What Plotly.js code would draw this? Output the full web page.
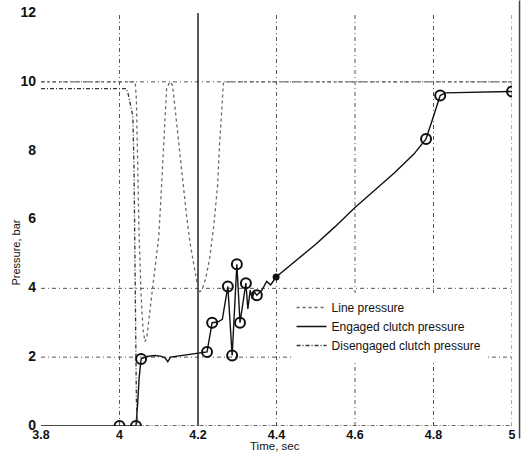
<!DOCTYPE html>
<html>
<head>
<meta charset="utf-8">
<script src="https://cdn.plot.ly/plotly-3.0.1.min.js"></script>
<style>
  html, body { margin: 0; padding: 0; background: #fff; }
  #chart { width: 521px; height: 454px; }
</style>
</head>
<body>
<div id="chart"></div>
<script>
// Line pressure during the shift (bar vs. s)
const lineTime = [3.8, 4.04, 4.043, 4.046, 4.05, 4.055, 4.06, 4.065, 4.07, 4.078,
                  4.09, 4.1, 4.105, 4.11, 4.115, 4.12, 4.128, 4.135, 4.14, 4.15,
                  4.16, 4.17, 4.18, 4.19, 4.2, 4.205, 4.21, 4.22, 4.23, 4.24,
                  4.25, 4.255, 4.26, 4.265, 5.0];
const linePressure = [10, 10, 9.5, 7.5, 5.5, 3.8, 2.8, 2.45, 2.6, 3.4,
                      4.6, 5.5, 6.5, 7.6, 8.8, 9.8, 10, 9.9, 9.4, 8.3,
                      7.1, 6.2, 5.3, 4.6, 4.0, 3.9, 3.95, 4.3, 4.9, 5.8,
                      7.0, 8.2, 9.3, 10, 10];

// Oncoming (engaged) clutch pressure
const engagedTime = [3.8, 4.0, 4.042, 4.046, 4.05, 4.055, 4.07, 4.09, 4.105, 4.116,
                     4.123, 4.13, 4.15, 4.17, 4.19, 4.21, 4.223, 4.236, 4.25, 4.262,
                     4.276, 4.287, 4.299, 4.307, 4.322, 4.327, 4.333, 4.338, 4.343, 4.35,
                     4.363, 4.375, 4.385, 4.399, 4.45, 4.5, 4.55, 4.6, 4.65, 4.7,
                     4.75, 4.781, 4.8, 4.817, 4.83, 5.0];
const engagedPressure = [0, 0, 0, 0.6, 1.4, 1.95, 2.02, 2.05, 2.03, 1.98,
                         1.87, 2.0, 2.03, 2.06, 2.08, 2.11, 2.15, 3.0, 3.02, 3.1,
                         4.05, 2.05, 4.7, 3.0, 4.15, 3.4, 3.95, 3.7, 3.9, 3.8,
                         3.95, 4.2, 4.1, 4.33, 4.8, 5.28, 5.8, 6.35, 6.85, 7.35,
                         7.9, 8.34, 9.0, 9.6, 9.68, 9.72];
// Recorded samples on the engaged curve (open circles) and the filled one
const engagedSampleIdx = [1, 2, 5, 16, 17, 20, 21, 22, 23, 24, 29, 41, 43, 45];
const engagedFilledIdx = [33];

// Offgoing (disengaged) clutch pressure
const disengagedTime = [3.8, 4.018, 4.022, 4.026, 4.03, 4.034, 4.037, 4.039, 4.041, 4.043, 4.045, 5.0];
const disengagedPressure = [9.8, 9.8, 9.65, 9.45, 9.25, 9.0, 7.5, 5.0, 2.5, 0.8, 0, 0];

// Axis ticks
const timeTicks = [3.8, 4.0, 4.2, 4.4, 4.6, 4.8, 5.0];
const timeTickText = ['3.8', '4', '4.2', '4.4', '4.6', '4.8', '5'];
const pressureTicks = [0, 2, 4, 6, 8, 10, 12];
const pressureTickText = ['0', '2', '4', '6', '8', '10', '12'];

// Grid lines and the shift-start marker
const gridTimes = [4.0, 4.4, 4.6, 4.8, 5.0];
const gridPressures = [2, 4, 10];
const shiftTime = 4.2;

const FONT = '"Liberation Sans", Arial, sans-serif';
const gridDash = '4px,3px,1px,3px';

const pick = (arr, idx) => idx.map(i => arr[i]);

const traces = [
  {
    x: lineTime, y: linePressure, mode: 'lines', name: 'Line pressure',
    line: { color: '#6a6a6a', width: 1.3, dash: '3px,3px' }
  },
  {
    x: engagedTime, y: engagedPressure, mode: 'lines', name: 'Engaged clutch pressure',
    line: { color: '#111', width: 1.4 }
  },
  {
    x: disengagedTime, y: disengagedPressure, mode: 'lines', name: 'Disengaged clutch pressure',
    line: { color: '#333', width: 1.3, dash: '4px,2px,1px,2px' }
  },
  {
    x: pick(engagedTime, engagedSampleIdx), y: pick(engagedPressure, engagedSampleIdx),
    mode: 'markers', showlegend: false, hoverinfo: 'skip',
    marker: { symbol: 'circle-open', size: 10, color: '#111', line: { width: 2, color: '#111' } }
  },
  {
    x: pick(engagedTime, engagedFilledIdx), y: pick(engagedPressure, engagedFilledIdx),
    mode: 'markers', showlegend: false, hoverinfo: 'skip',
    marker: { symbol: 'circle', size: 7, color: '#111' }
  }
];

const shapes = [];
gridTimes.forEach(t => shapes.push({
  type: 'line', xref: 'x', yref: 'paper', x0: t, x1: t, y0: 0, y1: 1, layer: 'below',
  line: { color: '#555', width: 1, dash: gridDash }
}));
gridPressures.forEach(p => shapes.push({
  type: 'line', xref: 'paper', yref: 'y', x0: 0, x1: 1, y0: p, y1: p, layer: 'below',
  line: { color: '#555', width: 1, dash: gridDash }
}));
shapes.push({
  type: 'line', xref: 'x', yref: 'paper', x0: shiftTime, x1: shiftTime, y0: 0, y1: 1, layer: 'below',
  line: { color: '#222', width: 1.5 }
});
// page edge on the right
shapes.push({
  type: 'line', xref: 'paper', yref: 'paper', x0: 1.016, x1: 1.016, y0: -0.03, y1: 1.03,
  line: { color: '#444', width: 1.5 }
});

const layout = {
  width: 521, height: 454,
  margin: { l: 41, r: 9, t: 13, b: 28, pad: 0 },
  paper_bgcolor: '#fff', plot_bgcolor: '#fff',
  font: { family: FONT, color: '#111' },
  showlegend: true,
  legend: {
    x: 0.532, y: 0.322, xanchor: 'left', yanchor: 'top',
    bgcolor: '#fff', borderwidth: 0, tracegroupgap: 0,
    font: { family: FONT, size: 12, color: '#111' }
  },
  xaxis: {
    range: [3.8, 5.0], tickmode: 'array', tickvals: timeTicks, ticktext: timeTickText,
    showgrid: false, zeroline: false, showline: false, ticks: '', ticklabelstandoff: -1,
    tickfont: { family: FONT, size: 12.5, color: '#111', weight: 'bold' }
  },
  yaxis: {
    range: [0, 12], tickmode: 'array', tickvals: pressureTicks, ticktext: pressureTickText,
    showgrid: false, zeroline: false, showline: false, ticks: '', ticklabelstandoff: 4,
    ticklabelshift: -1,
    tickfont: { family: FONT, size: 14, color: '#111', weight: 'bold' }
  },
  shapes: shapes,
  annotations: [
    {
      text: 'Pressure, bar', xref: 'paper', yref: 'paper', x: -0.053, y: 0.42,
      xanchor: 'center', yanchor: 'middle', textangle: -90, showarrow: false,
      font: { family: FONT, size: 11, color: '#111' }
    },
    {
      text: 'Time, sec', xref: 'paper', yref: 'paper', x: 0.497, y: 0,
      xanchor: 'center', yanchor: 'bottom', yshift: -27, borderpad: 0, showarrow: false,
      font: { family: FONT, size: 11.5, color: '#111' }
    }
  ]
};

Plotly.newPlot('chart', traces, layout, { displayModeBar: false, staticPlot: true });
</script>
</body>
</html>
